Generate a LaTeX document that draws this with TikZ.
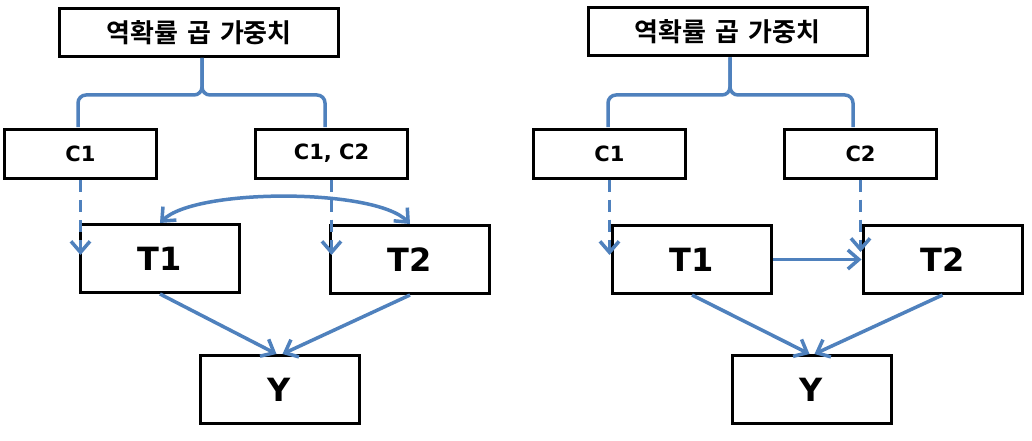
\documentclass[tikz,border=0pt]{standalone}
\usepackage{fontspec}
\usetikzlibrary{arrows.meta}
\newfontfamily\krfont{Noto Sans CJK KR}[BoldFont={* Bold}]
\newfontfamily\latfont{DejaVu Sans}
\newcommand\widewords{\spaceskip=0.35em\relax}
\definecolor{linkblue}{RGB}{79,129,189}
\begin{document}
\begin{tikzpicture}[x=1pt,y=-1pt,
  box/.style={draw=black,line width=3pt,fill=white,inner sep=0pt},
  topbox/.style={box,minimum width=279pt,minimum height=48pt,
    font=\krfont\bfseries\fontsize{26}{29}\selectfont\widewords},
  cbox/.style={box,minimum width=152pt,minimum height=49pt,
    font=\latfont\bfseries\fontsize{21}{24}\selectfont},
  tbox/.style={box,minimum width=159pt,minimum height=68pt,
    font=\latfont\bfseries\fontsize{32}{36}\selectfont},
  link/.style={draw=linkblue,line width=3.5pt},
  brace/.style={link,rounded corners=8pt},
  barb/.tip={Straight Barb[length=11pt,width=19pt]},
  tip/.style={-barb},
  twotip/.style={barb-barb},
  dashlink/.style={link,tip,dash pattern=on 12pt off 8pt}]
\useasboundingbox[fill=white] (0,0) rectangle (1032,441);

% ---------- left model ----------
\node[topbox] (topL) at (199,32.5) {역확률 곱 가중치};
\node[cbox] (c1L) at (80.5,154) {C1};
\node[cbox] (c12L) at (331.5,153.5) {C1, C2};
\node[tbox] (t1L) at (160,258.5) {T1};
\node[tbox] (t2L) at (410,259.5) {T2};
\node[tbox] (yL) at (279.5,389.5) {Y};

\coordinate (sL) at ([xshift=3pt]topL.south);
\coordinate (bL1) at (78,127);
\coordinate (bL2) at (325,127);
\draw[brace] (sL) -- (sL |- 0,95) -| (bL1);
\draw[brace] (sL) -- (sL |- 0,95) -| (bL2);

\coordinate (dL1) at (c1L.south |- 0,255);
\coordinate (dL2) at (c12L.south |- 0,255);
\draw[dashlink] (c1L.south) -- (dL1);
\draw[dashlink] (c12L.south) -- (dL2);

\draw[link,twotip] (t1L.north) .. controls (195,188) and (375,188) .. (t2L.north);

\draw[link,tip] (t1L.south) -- ([xshift=-3pt]yL.north);
\draw[link,tip] (t2L.south) -- ([xshift=3pt]yL.north);

% ---------- right model ----------
\node[topbox] (topR) at (727.5,32) {역확률 곱 가중치};
\node[cbox] (c1R) at (609.5,153.5) {C1};
\node[cbox] (c2R) at (860.5,153.5) {C2};
\node[tbox] (t1R) at (692,259.5) {T1};
\node[tbox] (t2R) at (942.5,259.5) {T2};
\node[tbox] (yR) at (811.5,389.5) {Y};

\coordinate (sR) at ([xshift=2.5pt]topR.south);
\coordinate (bR1) at (608,127);
\coordinate (bR2) at (853,127);
\draw[brace] (sR) -- (sR |- 0,95) -| (bR1);
\draw[brace] (sR) -- (sR |- 0,95) -| (bR2);

\coordinate (dR1) at (c1R.south |- 0,255);
\coordinate (dR2) at (c2R.south |- 0,252);
\draw[dashlink] (c1R.south) -- (dR1);
\draw[dashlink] (c2R.south) -- (dR2);

\draw[link,tip] (t1R.east) -- (t2R.west);

\draw[link,tip] (t1R.south) -- ([xshift=-2pt]yR.north);
\draw[link,tip] (t2R.south) -- ([xshift=3pt]yR.north);
\end{tikzpicture}
\end{document}
